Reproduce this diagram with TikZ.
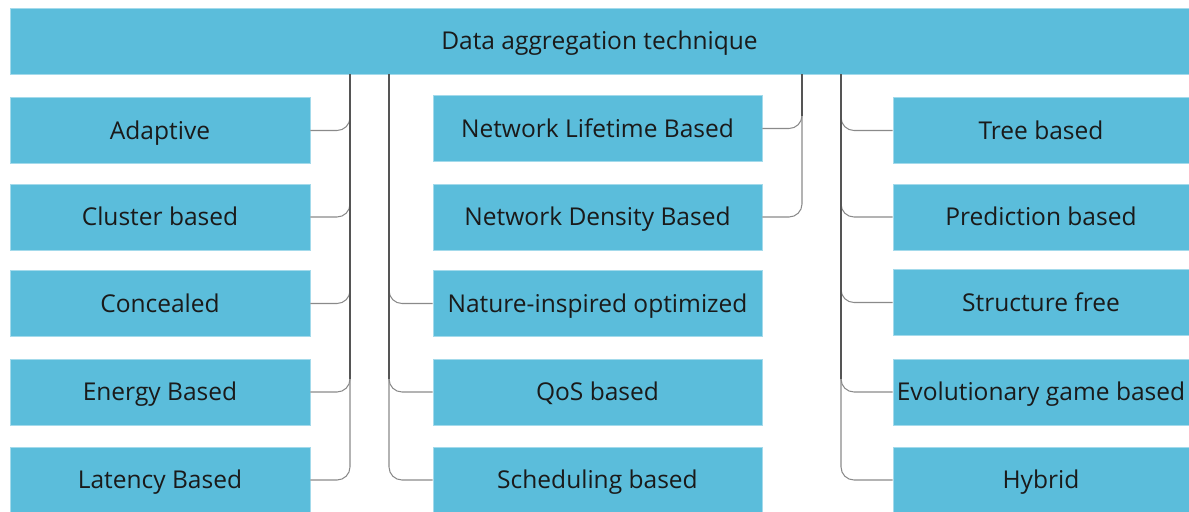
\documentclass[tikz,border=0pt]{standalone}
\usepackage{fontspec}
\setmainfont{Open Sans}
\definecolor{boxfill}{HTML}{5BBDDB}
\definecolor{boxedge}{HTML}{A3DAEB}
\definecolor{txt}{HTML}{1A1A1A}
\definecolor{branch}{HTML}{8A8A8A}
\definecolor{trunk}{HTML}{555555}
\tikzset{
  box/.style={rectangle, fill=boxfill, draw=boxedge, line width=0.6pt, inner sep=0pt,
    minimum height=49.5pt, text=txt, text height=13.1pt, text depth=0pt,
    font=\fontsize{18.4}{22}\selectfont},
  lbox/.style={box, minimum width=225pt},
  mbox/.style={box, minimum width=246.75pt},
  rbox/.style={box, minimum width=222pt},
  conn/.style={draw=branch, line width=0.8pt, rounded corners=9.75pt},
  trunkline/.style={draw=trunk, line width=0.8pt}
}
\begin{document}
\begin{tikzpicture}[x=0.75pt, y=-0.75pt]
\useasboundingbox (0,0) rectangle (1189,511);
\node[box, minimum width=884.25pt] (top) at (599.5,41) {Data aggregation technique};
% left column
\node[lbox] (l1) at (160,130.5) {Adaptive};
\node[lbox] (l2) at (160,217) {Cluster based};
\node[lbox] (l3) at (160,303.5) {Concealed};
\node[lbox] (l4) at (160,392) {Energy Based};
\node[lbox] (l5) at (160,480) {Latency Based};
% middle column
\node[mbox] (m1) at (597.5,128.5) {Network Lifetime Based};
\node[mbox] (m2) at (597.5,217) {Network Density Based};
\node[mbox] (m3) at (597.5,303.5) {Nature-inspired optimized};
\node[mbox] (m4) at (597.5,392) {QoS based};
\node[mbox] (m5) at (597.5,480) {Scheduling based};
% right column
\node[rbox] (r1) at (1041,130.5) {Tree based};
\node[rbox] (r2) at (1041,217) {Prediction based};
\node[rbox] (r3) at (1041,302.5) {Structure free};
\node[rbox] (r4) at (1041,392) {Evolutionary game based};
\node[rbox] (r5) at (1041,480) {Hybrid};
% trunk start points
\coordinate (t1) at (top.south -| 350,0);
\coordinate (t2) at (top.south -| 389,0);
\coordinate (t3) at (top.south -| 802,0);
\coordinate (t4) at (top.south -| 841,0);
\foreach \n in {l1,l2,l3,l4,l5} \draw[conn] (t1) |- (\n.east);
\foreach \n in {m3,m4,m5} \draw[conn] (t2) |- (\n.west);
\foreach \n in {m1,m2} \draw[conn] (t3) |- (\n.east);
\foreach \n in {r1,r2,r3,r4,r5} \draw[conn] (t4) |- (\n.west);
% darker shared trunk segments
\draw[trunkline] (t1) -- ([yshift=9.75pt] t1 |- l4.east);
\draw[trunkline] (t2) -- ([yshift=9.75pt] t2 |- m4.west);
\draw[trunkline] (t3) -- ([yshift=9.75pt] t3 |- m1.east);
\draw[trunkline] (t4) -- ([yshift=9.75pt] t4 |- r4.west);
\end{tikzpicture}
\end{document}
